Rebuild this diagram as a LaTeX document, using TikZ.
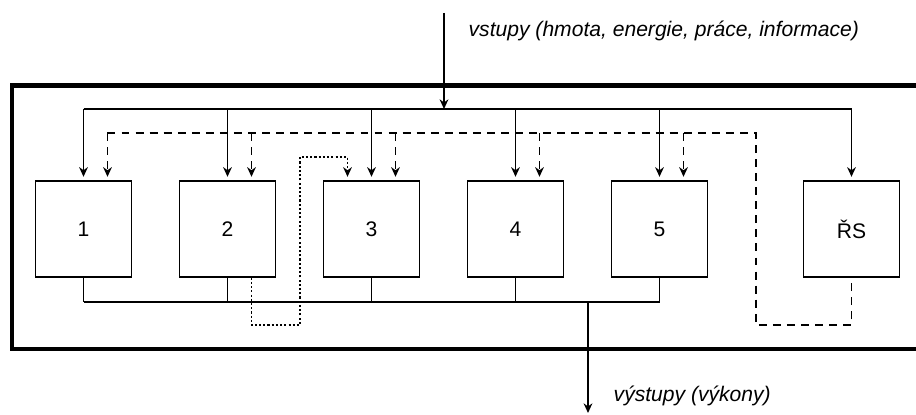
\documentclass[tikz,border=0pt]{standalone}
\usepackage{fontspec}
\setmainfont{Liberation Sans}
\usetikzlibrary{arrows.meta}
\begin{document}
\begin{tikzpicture}[x=0.02cm, y=-0.02cm, line width=0.8pt,
  blok/.style={draw, line width=0.8pt, minimum width=1.92cm, minimum height=1.92cm,
    inner sep=0pt, font=\fontsize{12}{14}\selectfont},
  popis/.style={inner sep=0pt, anchor=base west, font=\fontsize{12}{14}\selectfont\itshape},
  sipka/.style={-{Stealth[length=5.5pt,width=5pt]}},
  rizeni/.style={dash pattern=on 4.5pt off 3.5pt},
  tecky/.style={dash pattern=on 1.2pt off 1.2pt}]
\useasboundingbox (0,0) rectangle (916,415);

% Hranice systému
\draw[line width=2.8pt] (930,85.5) -| (12,349) -- (930,349);

% Prvky systému
\foreach \i/\x in {1/83.5, 2/227.5, 3/371.5, 4/515.5, 5/659.5}
  \node[blok] (b\i) at (\x,229) {\i};
\node[blok] (rs) at (851.5,229) {ŘS};

% Vstupy
\coordinate (vstup) at (444,13);
\coordinate (hbus) at (444,109);
\draw[sipka] (vstup) -- (hbus);
\draw (b1 |- hbus) -- (rs |- hbus);
\foreach \b in {b1,b2,b3,b4,b5,rs}
  \draw[sipka, shorten >=2pt] (\b |- hbus) -- (\b.north);
\node[popis] (tvstup) at (468,37) {vstupy (hmota, energie, práce, informace)};

% Řízení
\coordinate (rbus) at (756,133);
\coordinate (rdole) at (756,325);
\foreach \b in {b1,b2,b3,b4,b5}{
  \coordinate (\b r) at ([xshift=0.48cm]\b.north);
  \draw[rizeni, sipka, shorten >=2pt] (\b r |- rbus) -- (\b r);
}
\draw[rizeni] (b1r |- rbus) -- (rbus) -- (rdole) -| (rs.south);

% Vazba 2 -> 3
\coordinate (t2) at (300,157);
\coordinate (b3l) at ([xshift=-0.48cm]b3.north);
\draw[tecky, sipka, shorten >=2pt] ([xshift=0.48cm]b2.south) |- (t2 |- rdole) -- (t2) -| (b3l);

% Výstupy
\coordinate (vbus) at (588,302);
\coordinate (vystup) at (588,413);
\foreach \b in {b1,b2,b3,b4,b5}
  \draw (\b.south) -- (\b |- vbus);
\draw (b1 |- vbus) -- (b5 |- vbus);
\draw[sipka] (vbus) -- (vystup);
\node[popis] (tvystup) at (613,401) {výstupy (výkony)};
\end{tikzpicture}
\end{document}
